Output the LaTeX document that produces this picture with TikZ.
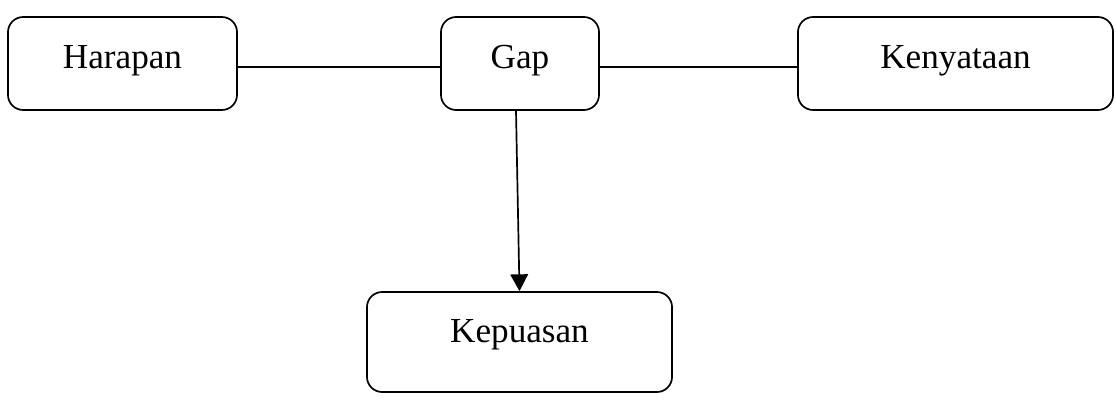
\documentclass[tikz,border=0pt]{standalone}
\usepackage{fontspec}
\setmainfont{Liberation Serif}
\usetikzlibrary{arrows.meta,positioning}

\begin{document}
\begin{tikzpicture}[x=0.025cm,y=-0.025cm,
  kotak/.style={draw,line width=1.2pt,rounded corners=0.38cm,inner sep=0pt,
    minimum height=2.325cm,text height=0.6cm,text depth=0.375cm,
    font=\fontsize{25}{30}\selectfont},
  garis/.style={line width=1.2pt},
  arr/.style={-{Triangle[length=4.2mm,width=4.4mm]},line width=1.2pt}
]
  \useasboundingbox (0,0) rectangle (1116,408);

  % Kotak atas
  \node[kotak,minimum width=5.725cm] (harapan) at (122.5,63.5) {Harapan};
  \node[kotak,minimum width=3.95cm] (gap) at (520,63.5) {Gap};
  \node[kotak,minimum width=7.875cm] (kenyataan) at (955.5,63.5) {Kenyataan};

  % Kotak bawah
  \node[kotak,minimum width=7.625cm,minimum height=2.5cm,text depth=0.6cm] (kepuasan) at (519.5,342) {Kepuasan};

  \draw[garis] ([yshift=-0.09cm]harapan.east) -- ([yshift=-0.09cm]gap.west);
  \draw[garis] ([yshift=-0.09cm]gap.east) -- ([yshift=-0.09cm]kenyataan.west);
  \draw[arr] ([xshift=-0.1cm]gap.south) -- (kepuasan.north);
\end{tikzpicture}
\end{document}
